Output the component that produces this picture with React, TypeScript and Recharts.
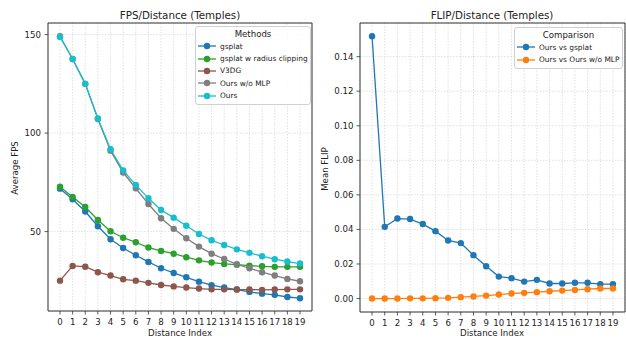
import React from 'react';
import { LineChart, Line, XAxis, YAxis, CartesianGrid, ReferenceArea } from 'recharts';

const distanceIndex = [0, 1, 2, 3, 4, 5, 6, 7, 8, 9, 10, 11, 12, 13, 14, 15, 16, 17, 18, 19];

const gsplatFps = [71.8, 66.4, 60.2, 52.7, 46.1, 41.7, 38.0, 34.6, 31.4, 29.0, 26.8, 24.6, 22.8, 21.6, 20.6, 19.4, 18.5, 17.9, 16.8, 16.2];
const radiusClipFps = [72.8, 67.6, 62.5, 55.9, 50.2, 46.9, 44.6, 41.9, 40.2, 38.8, 37.0, 35.4, 34.3, 33.6, 33.2, 32.7, 32.4, 32.1, 32.1, 32.1];
const v3dgFps = [25.1, 32.6, 32.2, 29.4, 27.7, 25.8, 25.1, 24.0, 22.9, 22.2, 21.6, 21.1, 20.7, 20.7, 20.6, 20.6, 20.4, 20.6, 20.7, 20.7];
const oursNoMlpFps = [149.2, 137.6, 125.0, 107.2, 91.1, 80.0, 72.0, 64.0, 56.8, 51.4, 46.6, 42.4, 38.8, 36.1, 33.4, 31.4, 29.4, 27.7, 26.0, 24.8];
const oursFps = [148.8, 137.6, 125.0, 107.4, 91.8, 81.1, 73.7, 66.9, 61.0, 57.1, 53.0, 48.8, 45.6, 43.2, 41.0, 39.2, 37.5, 36.0, 34.8, 33.8];

const flipVsGsplat = [0.1518, 0.0415, 0.0463, 0.046, 0.0431, 0.039, 0.0336, 0.0321, 0.0251, 0.0187, 0.0127, 0.0118, 0.0098, 0.0108, 0.0087, 0.0087, 0.0091, 0.0091, 0.0083, 0.0083];
const flipVsNoMlp = [0.0, 0.0, 0.0, 0.0001, 0.0001, 0.0002, 0.0004, 0.0008, 0.0012, 0.0017, 0.0023, 0.0029, 0.0033, 0.0037, 0.0042, 0.0046, 0.005, 0.0054, 0.0058, 0.0058];

const fpsTicks = [50, 100, 150];
const flipTicks = [0, 0.02, 0.04, 0.06, 0.08, 0.1, 0.12, 0.14];

const fpsData = distanceIndex.map((d, i) => ({
  idx: d,
  gsplat: gsplatFps[i],
  radius: radiusClipFps[i],
  v3dg: v3dgFps[i],
  noMlp: oursNoMlpFps[i],
  ours: oursFps[i],
}));

const flipData = distanceIndex.map((d, i) => ({
  idx: d,
  vsGsplat: flipVsGsplat[i],
  vsNoMlp: flipVsNoMlp[i],
}));

const fpsSeries = [
  { key: 'gsplat', name: 'gsplat', color: '#1f77b4' },
  { key: 'radius', name: 'gsplat w radius clipping', color: '#2ca02c' },
  { key: 'v3dg', name: 'V3DG', color: '#8c564b' },
  { key: 'noMlp', name: 'Ours w/o MLP', color: '#7f7f7f' },
  { key: 'ours', name: 'Ours', color: '#17becf' },
];

const flipSeries = [
  { key: 'vsGsplat', name: 'Ours vs gsplat', color: '#1f77b4' },
  { key: 'vsNoMlp', name: 'Ours vs Ours w/o MLP', color: '#ff7f0e' },
];

const FONT = '"DejaVu Sans", sans-serif';
const TXT = '#222';
const X_DOMAIN: [number, number] = [-0.95, 19.95];
const FPS_DOMAIN: [number, number] = [9.7, 155.9];
const FLIP_DOMAIN: [number, number] = [-0.0078, 0.1595];

type S = { key: string; name: string; color: string };

function LegendBox({ title, series, left, top, width }: { title: string; series: S[]; left: number; top: number; width: number }) {
  return (
    <div
      style={{
        position: 'absolute',
        left,
        top,
        width,
        boxSizing: 'border-box',
        border: '1px solid #d0d0d0',
        borderRadius: 3,
        background: 'rgba(255,255,255,0.85)',
        padding: '1px 0 2px 0',
        fontFamily: FONT,
        color: TXT,
      }}
    >
      <div style={{ textAlign: 'center', fontSize: 8.6, lineHeight: '12px', height: 12 }}>{title}</div>
      {series.map((s) => (
        <div key={s.key} style={{ display: 'flex', alignItems: 'center', height: 12.4, fontSize: 7.4, whiteSpace: 'nowrap' }}>
          <svg width={18} height={8} style={{ marginLeft: 2, marginRight: 4, flex: 'none' }}>
            <line x1={0} y1={4} x2={18} y2={4} stroke={s.color} strokeWidth={1.3} />
            <circle cx={9} cy={4} r={3.2} fill={s.color} />
          </svg>
          <span>{s.name}</span>
        </div>
      ))}
    </div>
  );
}

const tickStyle = { fontSize: 8.6, fill: TXT, fontFamily: FONT };

export default function App() {
  return (
    <div style={{ position: 'absolute', left: 0, top: 0, width: 626, height: 341, background: '#fff', fontFamily: FONT, overflow: 'hidden' }}>
      {/* Left chart */}
      <div style={{ position: 'absolute', left: 0, top: 0 }}>
        <LineChart width={320} height={341} data={fpsData} margin={{ top: 23, right: 8, bottom: 0, left: 0 }}>
          <CartesianGrid stroke="#d8d8d8" strokeDasharray="1.5 1.5" strokeWidth={0.8} />
          <XAxis
            dataKey="idx"
            type="number"
            domain={X_DOMAIN}
            ticks={distanceIndex}
            interval={0}
            allowDataOverflow
            height={30}
            axisLine={false}
            tickSize={3.5}
            tickMargin={4}
            tickLine={{ stroke: '#333', strokeWidth: 0.8 }}
            tick={tickStyle}
          />
          <YAxis
            type="number"
            domain={FPS_DOMAIN}
            ticks={fpsTicks}
            allowDataOverflow
            width={48}
            axisLine={false}
            tickSize={3.5}
            tickMargin={3.5}
            tickLine={{ stroke: '#333', strokeWidth: 0.8 }}
            tick={tickStyle}
          />
          <ReferenceArea x1={X_DOMAIN[0]} x2={X_DOMAIN[1]} y1={FPS_DOMAIN[0]} y2={FPS_DOMAIN[1]} fill="none" fillOpacity={0} stroke="#333" strokeWidth={1} ifOverflow="visible" />
          {fpsSeries.map((s) => (
            <Line
              key={s.key}
              dataKey={s.key}
              name={s.name}
              stroke={s.color}
              strokeWidth={1.3}
              dot={{ r: 3.2, fill: s.color, stroke: 'none' }}
              activeDot={false}
              isAnimationActive={false}
            />
          ))}
        </LineChart>
      </div>
      {/* Right chart */}
      <div style={{ position: 'absolute', left: 310, top: 0 }}>
        <LineChart width={316} height={341} data={flipData} margin={{ top: 23, right: 1, bottom: 0, left: 0 }}>
          <CartesianGrid stroke="#d8d8d8" strokeDasharray="1.5 1.5" strokeWidth={0.8} />
          <XAxis
            dataKey="idx"
            type="number"
            domain={X_DOMAIN}
            ticks={distanceIndex}
            interval={0}
            allowDataOverflow
            height={29}
            axisLine={false}
            tickSize={3.5}
            tickMargin={4}
            tickLine={{ stroke: '#333', strokeWidth: 0.8 }}
            tick={tickStyle}
          />
          <YAxis
            type="number"
            domain={FLIP_DOMAIN}
            ticks={flipTicks}
            allowDataOverflow
            width={50}
            axisLine={false}
            tickSize={3.5}
            tickMargin={3}
            tickLine={{ stroke: '#333', strokeWidth: 0.8 }}
            tick={tickStyle}
            tickFormatter={(v: number) => v.toFixed(2)}
          />
          <ReferenceArea x1={X_DOMAIN[0]} x2={X_DOMAIN[1]} y1={FLIP_DOMAIN[0]} y2={FLIP_DOMAIN[1]} fill="none" fillOpacity={0} stroke="#333" strokeWidth={1} ifOverflow="visible" />
          {flipSeries.map((s) => (
            <Line
              key={s.key}
              dataKey={s.key}
              name={s.name}
              stroke={s.color}
              strokeWidth={1.3}
              dot={{ r: 3.2, fill: s.color, stroke: 'none' }}
              activeDot={false}
              isAnimationActive={false}
            />
          ))}
        </LineChart>
      </div>

      {/* Titles and axis labels */}
      <div style={{ position: 'absolute', left: 80, width: 200, top: 8, textAlign: 'center', fontSize: 10.3, lineHeight: '14px', color: TXT }}>FPS/Distance (Temples)</div>
      <div style={{ position: 'absolute', left: 392, width: 200, top: 8, textAlign: 'center', fontSize: 10.3, lineHeight: '14px', color: TXT }}>FLIP/Distance (Temples)</div>
      <div style={{ position: 'absolute', left: 80, width: 200, top: 326, textAlign: 'center', fontSize: 8.6, lineHeight: '14px', color: TXT }}>Distance Index</div>
      <div style={{ position: 'absolute', left: 392, width: 200, top: 326, textAlign: 'center', fontSize: 8.6, lineHeight: '14px', color: TXT }}>Distance Index</div>
      <div style={{ position: 'absolute', left: 15 - 50, width: 100, top: 168 - 7, textAlign: 'center', fontSize: 8.6, lineHeight: '14px', color: TXT, transform: 'rotate(-90deg)' }}>Average FPS</div>
      <div style={{ position: 'absolute', left: 325 - 50, width: 100, top: 169 - 7, textAlign: 'center', fontSize: 8.6, lineHeight: '14px', color: TXT, transform: 'rotate(-90deg)' }}>Mean FLIP</div>

      <LegendBox title="Methods" series={fpsSeries} left={195} top={26} width={116} />
      <LegendBox title="Comparison" series={flipSeries} left={514} top={27} width={109} />
    </div>
  );
}
